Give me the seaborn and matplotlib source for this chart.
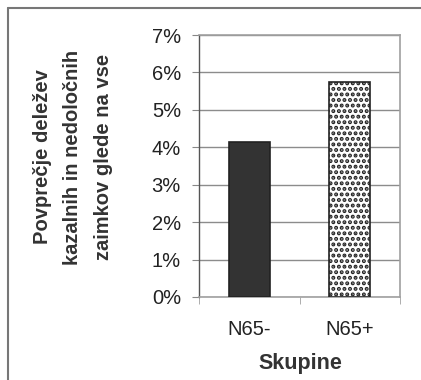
import matplotlib
matplotlib.use("Agg")
import matplotlib.pyplot as plt
import seaborn as sns
import pandas as pd
from matplotlib.lines import Line2D
from matplotlib.ticker import FuncFormatter

categories = ["N65-", "N65+"]
values = [4.15, 5.75]
y_ticks = [0, 1, 2, 3, 4, 5, 6, 7]

sns.set_style("white")
plt.rcParams['font.family'] = ['Liberation Sans', 'DejaVu Sans']
plt.rcParams['hatch.linewidth'] = 2.0
plt.rcParams['hatch.color'] = "#1a1a1a"

df = pd.DataFrame({"Skupine": categories, "val": values})

fig = plt.figure(figsize=(4.21, 3.80), dpi=100)
ax = fig.add_axes([199/421, 83/380, 201/421, 262/380])

sns.barplot(data=df, x="Skupine", y="val", ax=ax, width=0.41,
            palette=["#333333", "white"], hue="Skupine", legend=False,
            edgecolor="#222222", linewidth=1.2, zorder=3)
ax.patches[1].set_hatch("...")

ax.set_xlim(-0.5, 1.5)
ax.set_ylim(0, 7)
ax.set_yticks(y_ticks)
ax.yaxis.set_major_formatter(FuncFormatter(lambda v, p: f"{int(v)}%"))
ax.yaxis.grid(True, color="#8c8c8c", linewidth=1)
ax.set_axisbelow(True)

for s in ["top", "right", "bottom"]:
    ax.spines[s].set_color("#a0a0a0")
    ax.spines[s].set_linewidth(1.2)
ax.spines["left"].set_color("#555555")
ax.spines["left"].set_linewidth(1.0)

ax.tick_params(axis="y", which="both", left=True, length=5, color="#888888",
               labelsize=14.5, labelcolor="#222222", pad=8)
ax.set_xticks([0, 1])
ax.set_xticklabels(categories)
ax.tick_params(axis="x", bottom=False, labelsize=14.5, labelcolor="#222222", pad=13)
ax.set_xticks([-0.5, 0.5, 1.5], minor=True)
ax.tick_params(axis="x", which="minor", bottom=True, length=5, color="#a0a0a0")

ax.set_xlabel("")
ax.set_ylabel("")
fig.text(300/421, 1 - 364/380, "Skupine", fontsize=15.5, fontweight="bold",
         color="#333333", ha="center", va="center")
fig.text(73/421, 1 - 157/380,
         "Povprečje deležev\nkazalnih in nedoločnih\nzaimkov glede na vse",
         fontsize=14.5, fontweight="bold", color="#333333", rotation=90,
         ha="center", va="center", multialignment="center", linespacing=1.75)

fig.add_artist(Line2D([8/421, 8/421], [0, 1 - 8/380], color="#777777", linewidth=1.5,
                      transform=fig.transFigure))
fig.add_artist(Line2D([8/421, 1], [1 - 8/380, 1 - 8/380], color="#777777", linewidth=1.5,
                      transform=fig.transFigure))

fig.savefig("out.png", dpi=100)
